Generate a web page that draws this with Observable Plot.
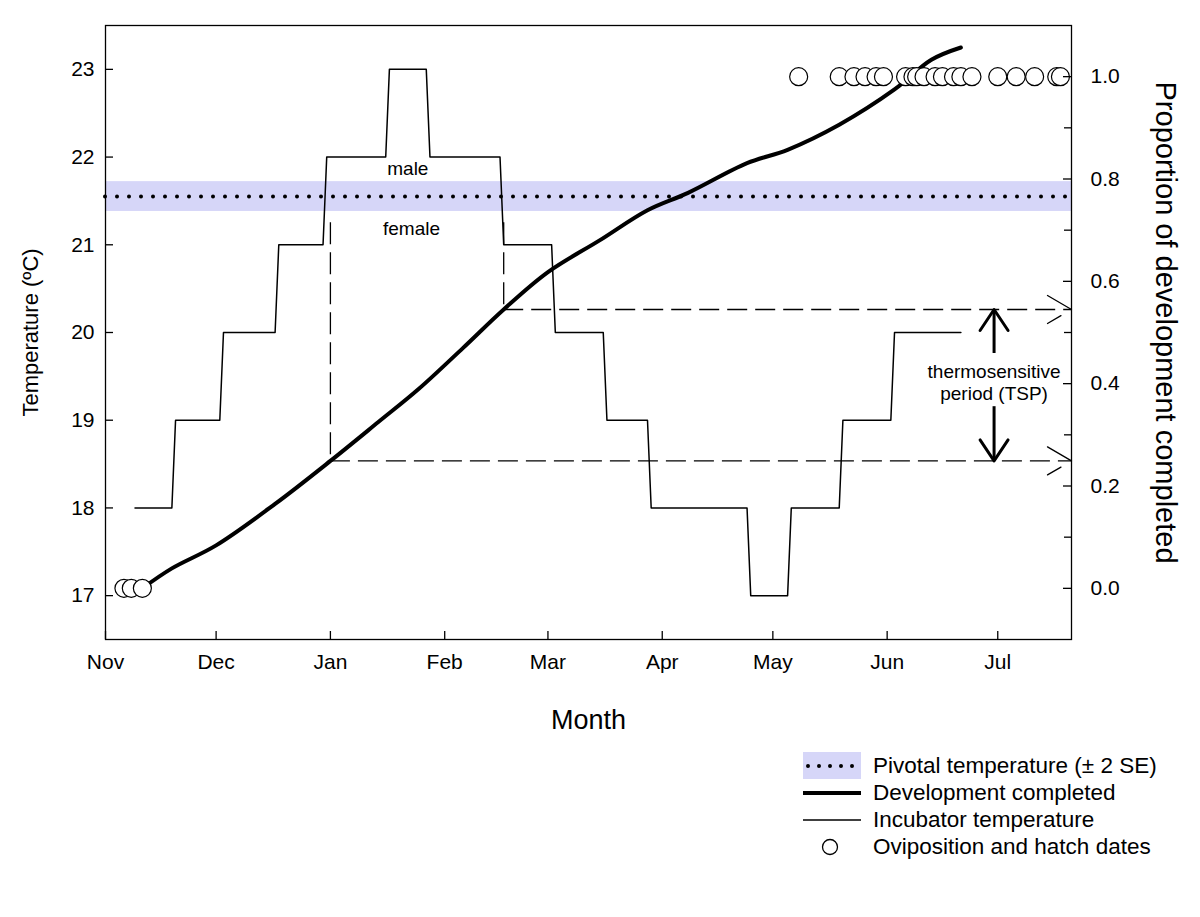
<!DOCTYPE html>
<html>
<head>
<meta charset="utf-8">
<script src="https://cdn.jsdelivr.net/npm/d3@7"></script>
<script src="https://cdn.jsdelivr.net/npm/@observablehq/plot@0.6"></script>
<style>
  body { margin: 0; background: #fff; font-family: "Liberation Sans", Arial, sans-serif; }
  #wrap { position: relative; width: 1200px; height: 917px; background: #fff; }
  #legend { position: absolute; left: 803px; top: 752px; font-size: 22.5px; color: #000; }
  .row { display: flex; align-items: center; height: 27px; }
  .row svg { display: block; margin-right: 12px; }
</style>
</head>
<body>
<div id="wrap"><div id="chart"></div><div id="legend"></div></div>
<script>
// ---------------- data ----------------
const monthTicks = ["2006-11-01","2006-12-01","2007-01-01","2007-02-01","2007-03-01","2007-04-01","2007-05-01","2007-06-01","2007-07-01"];
const tempTicks = [17, 18, 19, 20, 21, 22, 23];
const propTicks = [0, 0.2, 0.4, 0.6, 0.8, 1.0];
const propMinorTicks = [0.1, 0.3, 0.5, 0.7, 0.9];

// incubator temperature (step programme)
const tempDates = ["2006-11-09","2006-11-19","2006-11-20","2006-12-02","2006-12-03","2006-12-17","2006-12-18","2006-12-30","2006-12-31","2007-01-16","2007-01-17","2007-01-27","2007-01-28","2007-02-16","2007-02-17","2007-03-02","2007-03-03","2007-03-16","2007-03-17","2007-03-28","2007-03-29","2007-04-24","2007-04-25","2007-05-05","2007-05-06","2007-05-19","2007-05-20","2007-06-02","2007-06-03","2007-06-21"];
const tempValues = [18,18,19,19,20,20,21,21,22,22,23,23,22,22,21,21,20,20,19,19,18,18,17,17,18,18,19,19,20,20];

// proportion of development completed
const devDates = ["2006-11-11","2006-11-19","2006-12-01","2006-12-17","2007-01-01","2007-01-14","2007-01-25","2007-02-06","2007-02-17","2007-03-01","2007-03-15","2007-03-28","2007-04-08","2007-04-24","2007-05-05","2007-05-19","2007-06-03","2007-06-13","2007-06-21"];
const devValues = [0,0.039,0.084,0.165,0.249,0.325,0.390,0.470,0.545,0.618,0.680,0.739,0.773,0.831,0.857,0.906,0.975,1.033,1.057];

// oviposition (0) and hatch (1) dates
const eventDates = ["2006-11-06","2006-11-08","2006-11-11","2007-05-08","2007-05-19","2007-05-23","2007-05-26","2007-05-29","2007-05-31","2007-06-06","2007-06-08","2007-06-09","2007-06-11","2007-06-14","2007-06-16","2007-06-19","2007-06-21","2007-06-24","2007-07-01","2007-07-06","2007-07-11","2007-07-17","2007-07-18"];
const eventValues = [0,0,0,1,1,1,1,1,1,1,1,1,1,1,1,1,1,1,1,1,1,1,1];

// pivotal temperature ± 2 SE
const pivotalTemp = 21.55;
const pivotalSE2 = 0.17;

// thermosensitive period bounds
const tspDates = ["2007-01-01","2007-02-17"];
const tspValues = [0.249, 0.545];

// annotations
const sexLabels = ["male", "female"];
const sexDates = ["2007-01-22", "2007-01-23"];
const sexTemps = [21.87, 21.18];
const tspLabel = "thermosensitive\nperiod (TSP)";
const tspLabelDate = "2007-06-30";
const tspLabelValue = 0.404;
const tspArrowGap = [0.459, 0.355];
const tspLineTop = 21.25;

// ---------------- helpers ----------------
const D = s => new Date(s + "T00:00:00Z");
const X0 = D("2006-11-01"), X1 = D("2007-07-21");
const yT = p => 16.5 + (p + 0.1) / 1.2 * 7;               // proportion -> temperature scale
const pFmt = t => (Math.round(((t - 16.5) / 7 * 1.2 - 0.1) * 10) / 10).toFixed(1);

const temp = tempDates.map((d, i) => ({date: D(d), t: tempValues[i]}));
const dev = devDates.map((d, i) => ({date: D(d), p: devValues[i]}));
const events = eventDates.map((d, i) => ({date: D(d), p: eventValues[i]}));
const tsp = tspDates.map((d, i) => ({date: D(d), p: tspValues[i]}));
const sex = sexLabels.map((s, i) => ({label: s, date: D(sexDates[i]), t: sexTemps[i]}));
const tspArrows = tspValues.map((p, i) => ({date: D(tspLabelDate), from: tspArrowGap[1 - i], to: p}));

const vHead = (w, h) => ({draw(ctx) { ctx.moveTo(-w, h); ctx.lineTo(0, 0); ctx.lineTo(w, h); }});

const W = 1200, H = 740, ML = 105, MR = 129, MT = 25, MB = 101;
const plotW = W - ML - MR, plotH = H - MT - MB;
const FONT = "'Liberation Sans', Arial, sans-serif";

const chart = Plot.plot({
  width: W, height: H,
  marginLeft: ML, marginRight: MR, marginTop: MT, marginBottom: MB,
  style: {fontFamily: FONT, fontSize: "21px", background: "white", color: "black", overflow: "visible"},
  x: {type: "utc", domain: [X0, X1]},
  y: {domain: [16.5, 23.5]},
  marks: [
    // pivotal band and dotted line
    Plot.rect([pivotalTemp], {x1: X0, x2: X1, y1: d => d - pivotalSE2, y2: d => d + pivotalSE2, fill: "#d6d6f8"}),
    Plot.ruleY([pivotalTemp], {stroke: "black", strokeWidth: 4, strokeDasharray: "0,12", strokeLinecap: "round"}),
    // incubator temperature
    Plot.line(temp, {x: "date", y: "t", stroke: "black", strokeWidth: 1.5}),
    // TSP dashed guides
    Plot.ruleX(tsp, {x: "date", y1: tspLineTop, y2: d => yT(d.p), stroke: "black", strokeWidth: 1.3, strokeDasharray: "22,8"}),
    Plot.ruleY(tsp, {y: d => yT(d.p), x1: "date", x2: X1, stroke: "black", strokeWidth: 1.3, strokeDasharray: "20,8"}),
    Plot.vector(tsp, {x: X1, y: d => yT(d.p), rotate: 90, anchor: "start", shape: vHead(14, 24), stroke: "black", strokeWidth: 1.3, strokeDasharray: "28,12"}),
    // development curve
    Plot.line(dev, {x: "date", y: d => yT(d.p), stroke: "black", strokeWidth: 4, curve: "catmull-rom"}),
    // oviposition / hatch dates
    Plot.dot(events, {x: "date", y: d => yT(d.p), r: 9, fill: "white", stroke: "black", strokeWidth: 1.2}),
    // annotations
    Plot.text(sex, {x: "date", y: "t", text: "label", fontSize: 19}),
    Plot.text([tspLabel], {x: D(tspLabelDate), y: yT(tspLabelValue), text: d => d, fontSize: 19, lineHeight: 1.15}),
    Plot.ruleX(tspArrows, {x: "date", y1: d => yT(d.from), y2: d => yT(d.to), stroke: "black", strokeWidth: 3}),
    Plot.vector(tspArrows, {x: "date", y: d => yT(d.to), rotate: (d, i) => i === 0 ? 180 : 0, anchor: "start", shape: vHead(14, 21), stroke: "black", strokeWidth: 3}),
    // frame and inward ticks
    Plot.frame({stroke: "black", strokeWidth: 1.3}),
    Plot.tickY(tempTicks, {y: d => d, insetRight: plotW - 8, stroke: "black", strokeWidth: 1.3}),
    Plot.tickY(propTicks.map(yT), {y: d => d, insetLeft: plotW - 8, stroke: "black", strokeWidth: 1.3}),
    Plot.tickY(propMinorTicks.map(yT), {y: d => d, insetLeft: plotW - 7, stroke: "black", strokeWidth: 1.3}),
    Plot.tickX(monthTicks.map(D), {x: d => d, insetTop: plotH - 8, stroke: "black", strokeWidth: 1.3}),
    // axes (labels only)
    Plot.axisY(tempTicks, {anchor: "left", tickSize: 0, tickPadding: 11, fontSize: 21, tickFormat: d => String(d), label: null}),
    Plot.axisY(propTicks.map(yT), {anchor: "right", tickSize: 0, tickPadding: 19, fontSize: 21, tickFormat: pFmt, label: null}),
    Plot.axisX(monthTicks.map(D), {anchor: "bottom", tickSize: 0, tickPadding: 15, fontSize: 21, tickFormat: d3.utcFormat("%b"), label: null}),
    // axis titles
    Plot.text(["Temperature (ºC)"], {frameAnchor: "left", dx: -75, rotate: -90, textAnchor: "middle", lineAnchor: "middle", text: d => d, fontSize: 22}),
    Plot.text(["Proportion of development completed"], {frameAnchor: "right", dx: 94, dy: -10, rotate: 90, textAnchor: "middle", lineAnchor: "middle", text: d => d, fontSize: 29}),
    Plot.text(["Month"], {frameAnchor: "bottom", dy: 81, textAnchor: "middle", lineAnchor: "middle", text: d => d, fontSize: 27})
  ]
});
document.getElementById("chart").appendChild(chart);

// ---------------- legend ----------------
const legendItems = [
  {label: "Pivotal temperature (± 2 SE)", kind: "band"},
  {label: "Development completed", kind: "thick"},
  {label: "Incubator temperature", kind: "thin"},
  {label: "Oviposition and hatch dates", kind: "circle"}
];
const swatch = {
  band: `<rect x="0" y="0" width="58" height="27" fill="#d6d6f8"/><line x1="5" x2="58" y1="14" y2="14" stroke="black" stroke-width="4" stroke-dasharray="0,11" stroke-linecap="round"/>`,
  thick: `<line x1="0" x2="58" y1="14" y2="14" stroke="black" stroke-width="4"/>`,
  thin: `<line x1="0" x2="58" y1="14" y2="14" stroke="black" stroke-width="1.3"/>`,
  circle: `<circle cx="27" cy="14" r="7.5" fill="white" stroke="black" stroke-width="1.3"/>`
};
const legend = document.getElementById("legend");
legend.innerHTML = legendItems.map(it =>
  `<div class="row"><svg width="58" height="27">${swatch[it.kind]}</svg><span>${it.label}</span></div>`
).join("");
</script>
</body>
</html>
